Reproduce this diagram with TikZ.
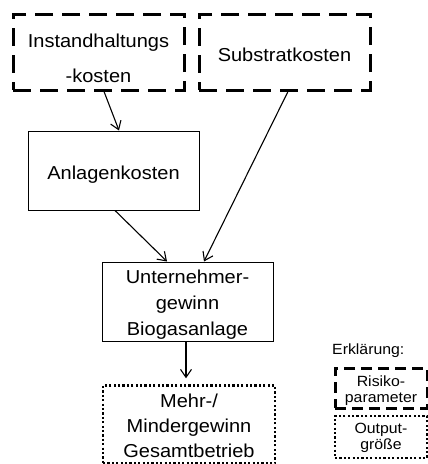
\documentclass[tikz,border=0pt]{standalone}
\usepackage{fontspec}
\setmainfont{Liberation Sans}[FakeStretch=1.07]
\usetikzlibrary{arrows.meta}
% invisible struts that place the text block inside a box
\newcommand\topst[1]{\rule{0pt}{#1pt}}
\newcommand\botst{\rule[-6pt]{0pt}{6pt}}

\begin{document}
\begin{tikzpicture}[x=1pt,y=-1pt,
  box/.style={draw, line width=1pt, inner sep=0pt, align=center,
    font=\fontsize{18.7}{26}\selectfont,
    minimum width=171pt, minimum height=79pt},
  riskbox/.style={box, line width=3pt, dash pattern=on 18pt off 9pt},
  outbox/.style={box, line width=2.4pt, dash pattern=on 2.2pt off 2.2pt},
  legfont/.style={font=\fontsize{14.8}{16}\selectfont},
  legrisk/.style={riskbox, dash pattern=on 11pt off 6pt, legfont,
    minimum width=92pt},
  legout/.style={outbox, legfont, minimum width=92pt},
  arr/.style={-{Straight Barb[length=8pt,width=11pt]}, line width=1.1pt}]

\useasboundingbox (0,0) rectangle (428,464);

% risk parameters
\node[riskbox, minimum height=76pt] (inst) at (98.5,52)
  {\topst{31}Instandhaltungs\\[9pt]-kosten\botst};
\node[riskbox, minimum height=76pt] (sub) at (284.5,52)
  {\topst{24}Substratkosten\botst};

% intermediate results
\node[box] (anl) at (113.5,170.5) {\topst{23}Anlagenkosten\botst};
\node[box] (unt) at (187.5,301.5)
  {\topst{21}Unternehmer-\\gewinn\\Biogasanlage\botst};

% output
\node[outbox, minimum width=172pt, minimum height=77pt] (mehr) at (189,424.5)
  {\topst{22}Mehr-/\\[-1pt]Mindergewinn\\[-1pt]Gesamtbetrieb\botst};

% connectors
\draw[arr] ([xshift=5.5pt]inst.south) -- ([xshift=5.5pt]anl.north);
\draw[arr] ([xshift=1.5pt]anl.south) -- ([xshift=-20.5pt]unt.north);
\draw[arr] ([xshift=3.5pt]sub.south) -- ([xshift=16.5pt]unt.north);
\draw[arr, shorten >=6pt] ([xshift=-1.5pt]unt.south) -- ([xshift=-3pt]mehr.north);

% legend
\node[anchor=base west, inner sep=0pt, legfont]
  (erk) at (332,354) {Erklärung:};
\node[legrisk, minimum height=38pt] (lrisk) at (381,388)
  {\topst{18}Risiko-\\parameter\botst};
\node[legout, minimum height=42pt] (lout) at (381,437)
  {\topst{14}Output-\\größe\botst};

\end{tikzpicture}
\end{document}
